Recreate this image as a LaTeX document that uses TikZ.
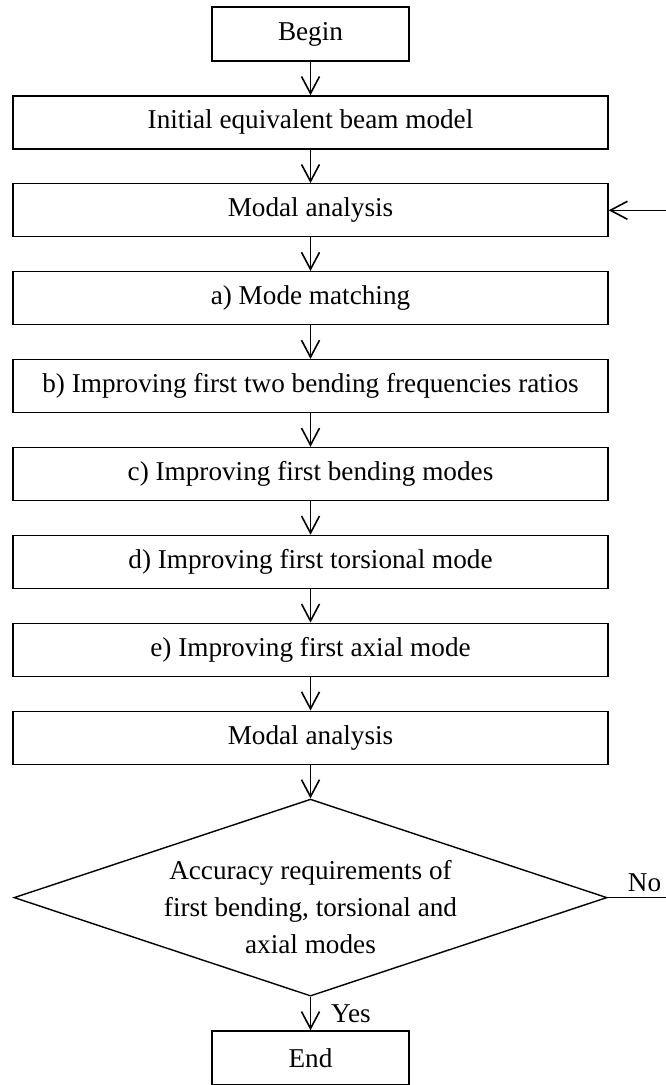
\documentclass[tikz,border=0pt]{standalone}
\usepackage{fontspec}
\setmainfont{Liberation Serif}
\usetikzlibrary{arrows.meta}
\usetikzlibrary{positioning}
\usetikzlibrary{shapes.geometric}

\begin{document}
\begin{tikzpicture}[
    node distance=16.75pt,
    every node/.style={font=\fontsize{13.6}{18.5}\selectfont},
    box/.style={draw, line width=0.7pt, minimum width=297.5pt, minimum height=26.5pt, inner sep=0pt},
    smallbox/.style={box, minimum width=98.5pt, minimum height=27pt},
    decision/.style={draw, diamond, line width=0.7pt, aspect=3, minimum width=296.5pt, minimum height=98.5pt, inner sep=0pt},
    flow/.style={line width=0.7pt, -{Straight Barb[length=8.5pt,width=9pt,line width=0.8pt]}},
    tag/.style={inner sep=1pt}
  ]
  \useasboundingbox (0,0) rectangle (332.5pt,-542.5pt);
  % steps
  \node[smallbox] (start) at (155.25pt,-17pt) {Begin};
  \node[box, below=of start] (init) {Initial equivalent beam model};
  \node[box, below=of init] (modal1) {Modal analysis};
  \node[box, below=of modal1] (match) {a) Mode matching};
  \node[box, below=of match] (ratio) {b) Improving first two bending frequencies ratios};
  \node[box, below=of ratio] (bend) {c) Improving first bending modes};
  \node[box, below=of bend] (tors) {d) Improving first torsional mode};
  \node[box, below=of tors] (axial) {e) Improving first axial mode};
  \node[box, below=of axial] (modal2) {Modal analysis};
  \node[decision, below=of modal2] (acc) {};
  \node[align=center, yshift=-4.5pt] (acctext) at (acc) {Accuracy requirements of\\first bending, torsional and\\axial modes};
  \node[smallbox, below=of acc] (stop) {End};
  % main chain
  \foreach \a/\b in {start/init, init/modal1, modal1/match, match/ratio, ratio/bend, bend/tors, tors/axial, axial/modal2, modal2/acc}
    \draw[flow] (\a) -- (\b);
  \draw[flow] (acc) -- node[tag, right=9pt] {Yes} (stop);
  % back to modal analysis
  \coordinate[right=40pt of acc.east] (turn);
  \draw[flow] (acc.east) -- node[tag, above=1.5pt, pos=0.46] {No} (turn) |- (modal1.east);
\end{tikzpicture}
\end{document}
